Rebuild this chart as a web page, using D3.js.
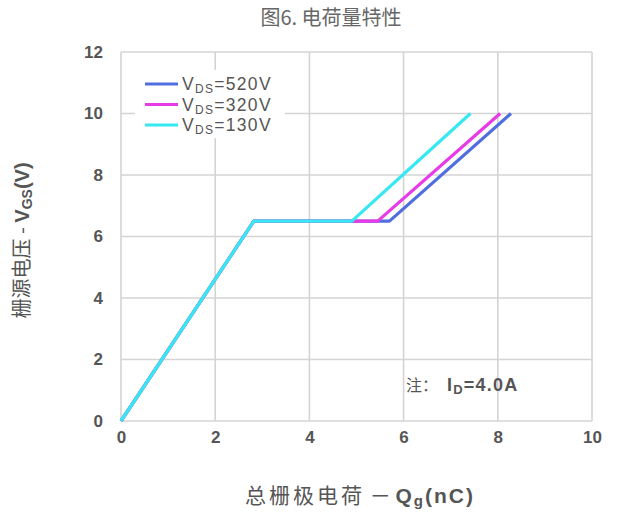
<!DOCTYPE html>
<html>
<head>
<meta charset="utf-8">
<script src="https://cdn.jsdelivr.net/npm/d3@7"></script>
<style>
  body { margin: 0; background: #fff; }
  text { font-family: Arial, "Liberation Sans", "Noto Sans CJK SC", sans-serif; }
</style>
</head>
<body>
<svg id="chart"></svg>
<script>
// gate charge curves
const xTicks = [0, 2, 4, 6, 8, 10];
const yTicks = [0, 2, 4, 6, 8, 10, 12];

const seriesVds = ['520V', '320V', '130V'];
const seriesColors = ['#4f6fe0', '#e83ae6', '#35e8f2'];

const qg520 = [0, 2.82, 5.7, 8.28];
const vgs520 = [0, 6.5, 6.5, 10];
const qg320 = [0, 2.82, 5.45, 8.05];
const vgs320 = [0, 6.5, 6.5, 10];
const qg130 = [0, 2.82, 4.9, 7.42];
const vgs130 = [0, 6.5, 6.5, 10];

const seriesX = [qg520, qg320, qg130];
const seriesY = [vgs520, vgs320, vgs130];

const width = 617, height = 514;
const margin = {top: 52, right: 25, bottom: 93, left: 121};

const svg = d3.select('#chart')
    .attr('width', width)
    .attr('height', height);

const x = d3.scaleLinear().domain([0, 10]).range([margin.left, width - margin.right]);
const y = d3.scaleLinear().domain([0, 12]).range([height - margin.bottom, margin.top]);

const gridColor = '#d4d4d4';
const labelColor = '#555';
const cjk = '"Noto Sans CJK SC", sans-serif';

// grid
svg.append('g')
    .selectAll('line')
    .data(xTicks)
  .join('line')
    .attr('x1', d => x(d)).attr('x2', d => x(d))
    .attr('y1', y(0)).attr('y2', y(12))
    .attr('stroke', gridColor)
    .attr('stroke-width', 1.6);

svg.append('g')
    .selectAll('line')
    .data(yTicks)
  .join('line')
    .attr('x1', x(0)).attr('x2', x(10))
    .attr('y1', d => y(d)).attr('y2', d => y(d))
    .attr('stroke', gridColor)
    .attr('stroke-width', 1.6);

// axes (labels only)
const xAxis = d3.axisBottom(x).tickValues(xTicks).tickSize(0).tickPadding(10);
const yAxis = d3.axisLeft(y).tickValues(yTicks).tickSize(0).tickPadding(18);

const xAxisG = svg.append('g')
    .attr('transform', `translate(0,${y(0)})`)
    .call(xAxis);
const yAxisG = svg.append('g')
    .attr('transform', `translate(${x(0)},0)`)
    .call(yAxis);

[xAxisG, yAxisG].forEach(g => {
  g.select('.domain').remove();
  g.selectAll('text')
      .attr('fill', labelColor)
      .style('font-size', '17px')
      .style('font-weight', 'bold')
      .style('font-family', 'Arial, "Liberation Sans", sans-serif');
});

// legend box (white, hides grid behind)
const legend = svg.append('g');
legend.append('rect')
    .attr('x', 135).attr('y', 70)
    .attr('width', 150).attr('height', 68)
    .attr('fill', '#fff');

const legendRows = legend.selectAll('g')
    .data(seriesVds)
  .join('g')
    .attr('transform', (d, i) => `translate(145,${84 + i * 20.5})`);

legendRows.append('line')
    .attr('x1', 0).attr('x2', 33)
    .attr('stroke', (d, i) => seriesColors[i])
    .attr('stroke-width', 3);

const legendText = legendRows.append('text')
    .attr('x', 37).attr('y', 6)
    .attr('fill', labelColor)
    .style('font-size', '17.5px')
    .style('letter-spacing', '1.3px');
legendText.append('tspan').text('V');
legendText.append('tspan').attr('dy', 3).style('font-size', '12px').text('DS');
legendText.append('tspan').attr('dy', -3).text(d => '=' + d);

// curves
const line = d3.line()
    .x(d => x(d[0]))
    .y(d => y(d[1]));

svg.append('g')
    .selectAll('path')
    .data(seriesX.map((xs, i) => xs.map((v, j) => [v, seriesY[i][j]])))
  .join('path')
    .attr('d', line)
    .attr('fill', 'none')
    .attr('stroke', (d, i) => seriesColors[i])
    .attr('stroke-width', 3.2)
    .attr('stroke-linejoin', 'round');

// note
svg.append('text')
    .attr('x', 406).attr('y', 391)
    .attr('fill', labelColor)
    .style('font-size', '16px')
    .style('font-family', cjk)
    .text('注：');
const note = svg.append('text')
    .attr('x', 447).attr('y', 391)
    .attr('fill', labelColor)
    .style('font-size', '18px')
    .style('font-weight', 'bold')
    .style('letter-spacing', '1.2px');
note.append('tspan').text('I');
note.append('tspan').attr('dy', 3).style('font-size', '13px').text('D');
note.append('tspan').attr('dy', -3).text('=4.0A');

// title
svg.append('text')
    .attr('x', 331).attr('y', 25)
    .attr('text-anchor', 'middle')
    .attr('fill', '#666')
    .style('font-size', '20px')
    .style('font-family', cjk)
    .text('图6. 电荷量特性');

// x label
const xLabel = svg.append('text')
    .attr('x', 360).attr('y', 503)
    .attr('text-anchor', 'middle')
    .attr('fill', labelColor)
    .style('font-size', '21px');
xLabel.append('tspan').style('font-family', cjk).style('letter-spacing', '3px').text('总栅极电荷');
xLabel.append('tspan').style('font-family', cjk).text(' － ');
const xLatin = xLabel.append('tspan').style('font-weight', 'bold').style('letter-spacing', '2px');
xLatin.append('tspan').text('Q');
xLatin.append('tspan').attr('dy', 3).style('font-size', '15px').text('g');
xLatin.append('tspan').attr('dy', -3).text('(nC)');

// y label
const yLabel = svg.append('text')
    .attr('transform', `translate(29,${(y(0) + y(12)) / 2 + 4}) rotate(-90)`)
    .attr('text-anchor', 'middle')
    .attr('fill', labelColor)
    .style('font-size', '20px');
yLabel.append('tspan').style('font-family', cjk).text('栅源电压');
yLabel.append('tspan').style('font-family', cjk).text(' - ');
yLabel.append('tspan').style('font-weight', 'bold').text('V');
yLabel.append('tspan').attr('dy', 3).style('font-size', '14px').style('font-weight', 'bold').text('GS');
yLabel.append('tspan').attr('dy', -3).style('font-weight', 'bold').text('(V)');
</script>
</body>
</html>
